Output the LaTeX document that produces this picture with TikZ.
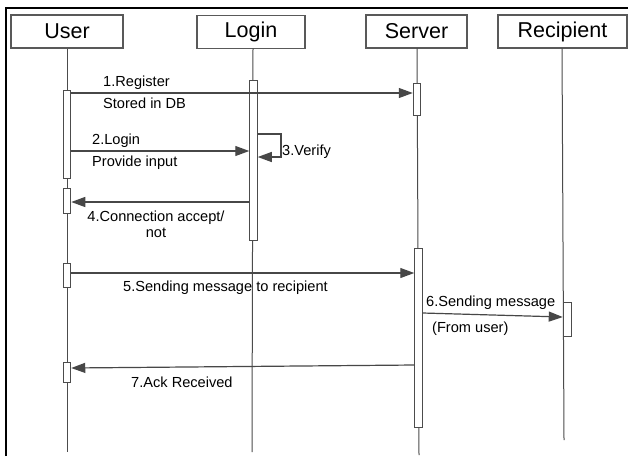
\documentclass[tikz,border=0pt]{standalone}
\usepackage{fontspec}
\setmainfont{Liberation Sans}
\usetikzlibrary{arrows.meta}
\begin{document}
\begin{tikzpicture}[x=1pt,y=-1pt,
  head/.style={draw=black!65,line width=1.2pt,fill=white,inner sep=0pt,
    minimum height=33pt,font=\fontsize{21.5}{24}\selectfont},
  life/.style={draw=black!70,line width=1pt},
  act/.style={draw=black!70,line width=1pt,fill=white,inner sep=0pt,minimum width=7.5pt},
  msg/.style={draw=black!72,line width=1.2pt,-{Triangle[length=14pt,width=10pt]}},
  lbl/.style={font=\fontsize{14.6}{17}\selectfont,inner sep=0pt,anchor=base west}]

\useasboundingbox (0,0) rectangle (628,456);
\fill[white] (0,0) rectangle (628,456);
\draw[line width=2pt] (6,456) -- (6,8) -- (628,8);

% participants
\node[head,minimum width=112pt] (user) at (67,31.5) {User};
\node[head,minimum width=108pt] (login) at (251,32) {Login};
\node[head,minimum width=101pt] (server) at (416.5,31.5) {Server};
\node[head,minimum width=129pt] (recip) at (562.5,31.5) {Recipient};

% lifelines
\coordinate (userEnd) at (67,452);
\coordinate (loginTop) at (253,48);
\coordinate (loginEnd) at (252,452);
\coordinate (serverTop) at (417,48);
\coordinate (serverEnd) at (419,455);
\coordinate (recipTop) at (562,48);
\coordinate (recipEnd) at (564,440);
\draw[life] (user.south) -- (userEnd);
\draw[life] (loginTop) -- (loginEnd);
\draw[life] (serverTop) -- (serverEnd);
\draw[life] (recipTop) -- (recipEnd);

% activation bars
\node[act,minimum height=88pt] (u1) at (67,134) {};
\node[act,minimum height=25pt] (u2) at (67,200.5) {};
\node[act,minimum height=24pt] (u3) at (67,275) {};
\node[act,minimum height=20pt] (u4) at (67,372) {};
\node[act,minimum height=160pt] (l1) at (253.5,160) {};
\node[act,minimum height=32pt] (s1) at (417,99) {};
\node[act,minimum height=179pt] (s2) at (418.5,337.5) {};
\node[act,minimum height=34pt,minimum width=8.5pt] (r1) at (567.5,319.5) {};

% messages
\draw[msg] (u1.east |- 0,93) -- (s1.west |- 0,93);
\node[lbl] (m1a) at (103,86) {1.Register};
\node[lbl] (m1b) at (103,108) {Stored in DB};

\draw[msg] (u1.east |- 0,151) -- (l1.west |- 0,151);
\node[lbl] (m2a) at (92,144) {2.Login};
\node[lbl] (m2b) at (92,166) {Provide input};

\coordinate (v1) at (281,134);
\draw[msg] (l1.east |- 0,134) -- (v1) -- (v1 |- 0,157) -- (l1.east |- 0,157);
\node[lbl] (m3) at (282,155) {3.Verify};

\draw[msg] (l1.west |- 0,202) -- (u2.east |- 0,202);
\node[font=\fontsize{14.6}{15.5}\selectfont,align=center,inner sep=0pt,anchor=north]
  (m4) at (156,211) {4.Connection accept/\\not};

\draw[msg] (u3.east |- 0,273) -- (s2.west |- 0,273);
\node[lbl] (m5) at (123,291) {5.Sending message to recipient};

\draw[msg] (s2.east |- 0,313) -- (r1.west |- 0,317);
\node[lbl] (m6a) at (426,306) {6.Sending message};
\node[lbl] (m6b) at (432,332) {(From user)};

\draw[msg] (s2.west |- 0,365) -- (u4.east |- 0,368);
\node[lbl] (m7) at (131,387) {7.Ack Received};
\end{tikzpicture}
\end{document}
